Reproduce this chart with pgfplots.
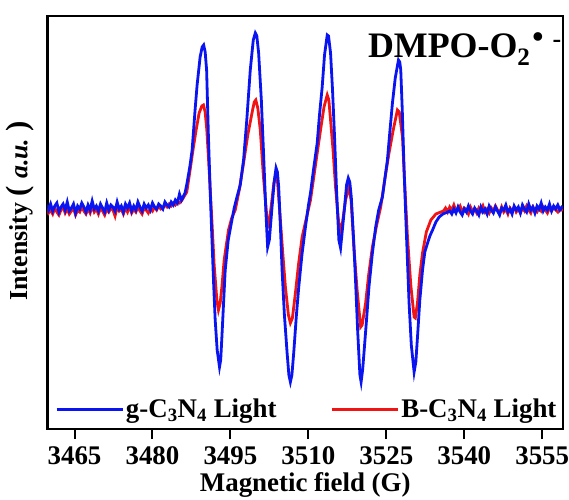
\documentclass[border=0pt]{standalone}
\usepackage{pgfplots}
\pgfplotsset{compat=1.18}
\usepackage{fontspec}
\setmainfont{Liberation Serif}
\definecolor{gblue}{RGB}{10,20,240}
\definecolor{bred}{RGB}{240,20,20}

% EPR spectra, DMPO spin trap (field in G, intensity in arbitrary units)
\pgfplotstableread{
x y
3459.6 3
3460.0 -2
3460.4 4
3460.8 -3
3461.2 2
3461.6 5
3462.0 -4
3462.4 1
3462.8 4
3463.2 -2
3463.6 6
3464.0 -3
3464.4 0
3464.8 4
3465.2 -5
3465.6 2
3466.0 -1
3466.4 5
3466.8 1
3467.2 -4
3467.6 3
3468.0 -2
3468.4 7
3468.8 -1
3469.2 2
3469.6 -3
3470.0 4
3470.4 0
3470.8 -4
3471.2 5
3471.6 -2
3472.0 3
3472.4 1
3472.8 -3
3473.2 6
3473.6 -1
3474.0 2
3474.4 -4
3474.8 4
3475.2 0
3475.6 5
3476.0 -3
3476.4 2
3476.8 -2
3477.2 6
3477.6 1
3478.0 -3
3478.4 4
3478.8 0
3479.2 3
3479.6 -2
3480.0 5
3480.4 1
3480.8 -1
3481.2 4
3481.6 2
3482.0 -1
3482.4 6
3482.8 3
3483.2 1
3483.6 6
3484.0 3
3484.4 8
3484.8 5
3485.2 14
3485.6 8
3486.27 15
3486.66 25
3487.24 43
3487.63 58
3488.20 98
3488.59 123
3489.17 151
3489.56 161
3489.85 163
3490.14 156
3490.42 138
3490.77 71
3491.10 18
3491.43 -29
3491.78 -77
3492.07 -112
3492.45 -142
3492.90 -159
3493.13 -152
3493.36 -129
3493.71 -92
3494.00 -62
3494.58 -32
3495.29 -12
3495.73 0
3496.26 11
3496.89 23
3497.53 48
3498.15 88
3498.82 138
3499.40 168
3499.79 175
3500.08 172
3500.43 155
3500.95 108
3501.39 53
3501.81 -2
3502.16 -39
3502.49 -32
3503.01 1
3503.46 28
3503.78 40
3504.04 36
3504.29 21
3504.61 -17
3504.94 -62
3505.39 -107
3505.91 -145
3506.25 -167
3506.54 -174
3506.83 -167
3507.18 -145
3507.70 -107
3508.15 -79
3508.76 -47
3509.44 -19
3510.02 3
3510.41 15
3510.98 38
3511.70 65
3512.14 93
3512.66 121
3513.11 153
3513.63 173
3513.88 172
3514.27 155
3514.65 118
3515.04 71
3515.42 18
3515.87 -32
3516.20 -40
3516.58 -20
3516.97 1
3517.35 23
3517.68 30
3517.97 26
3518.26 11
3518.71 -32
3519.09 -74
3519.48 -122
3519.92 -167
3520.15 -174
3520.44 -162
3520.70 -145
3521.22 -110
3521.66 -79
3522.28 -47
3522.95 -19
3523.53 -2
3524.25 11
3524.69 28
3525.21 48
3525.66 75
3526.18 105
3526.72 130
3527.34 148
3527.59 146
3527.78 138
3528.07 98
3528.42 38
3528.84 -22
3529.38 -95
3529.81 -137
3530.35 -164
3530.68 -154
3531.00 -129
3531.45 -92
3531.97 -62
3532.41 -44
3532.94 -35
3533.38 -28
3533.90 -22
3534.54 -14
3535.17 -9
3535.89 -6
3536.80 -4
3537.2 -3
3537.6 -6
3538.0 -1
3538.4 -5
3538.8 1
3539.2 -4
3539.6 -7
3540.0 -1
3540.4 -4
3540.8 2
3541.2 -3
3541.6 -6
3542.0 0
3542.4 -3
3542.8 -7
3543.2 1
3543.6 -4
3544.0 -1
3544.4 -6
3544.8 2
3545.2 -2
3545.6 -5
3546.0 1
3546.4 -3
3546.8 -7
3547.2 0
3547.6 -2
3548.0 3
3548.4 -4
3548.8 -1
3549.2 -6
3549.6 2
3550.0 -2
3550.4 1
3550.8 -5
3551.2 3
3551.6 -1
3552.0 -4
3552.4 4
3552.8 -2
3553.2 1
3553.6 -5
3554.0 2
3554.4 -1
3554.8 5
3555.2 -3
3555.6 1
3556.0 -2
3556.4 4
3556.8 -3
3557.2 2
3557.6 -1
3558.0 3
3558.4 -2
3558.8 1
3559.2 0
}\gcnlight

\pgfplotstableread{
x y
3459.6 -1
3460.0 -5
3460.4 -2
3460.8 -6
3461.2 0
3461.6 -4
3462.0 -7
3462.4 -2
3462.8 1
3463.2 -5
3463.6 -1
3464.0 -6
3464.4 -3
3464.8 0
3465.2 -7
3465.6 -2
3466.0 -4
3466.4 1
3466.8 -3
3467.2 -6
3467.6 -1
3468.0 -5
3468.4 2
3468.8 -4
3469.2 -1
3469.6 -6
3470.0 0
3470.4 -3
3470.8 -7
3471.2 -1
3471.6 -4
3472.0 0
3472.4 -2
3472.8 -8
3473.2 1
3473.6 -3
3474.0 -1
3474.4 -6
3474.8 0
3475.2 -4
3475.6 2
3476.0 -5
3476.4 -1
3476.8 -4
3477.2 1
3477.6 -3
3478.0 -6
3478.4 0
3478.8 -2
3479.2 -5
3479.6 0
3480.0 -3
3480.4 1
3480.8 -2
3481.2 2
3481.6 -1
3482.0 0
3482.4 3
3482.8 1
3483.2 4
3483.6 2
3484.0 5
3484.4 3
3484.8 6
3485.2 5
3485.69 8
3486.60 16
3487.24 38
3487.88 61
3488.40 78
3488.98 95
3489.50 102
3489.81 103
3490.14 96
3490.46 78
3490.91 38
3491.43 -12
3491.87 -57
3492.39 -92
3492.70 -102
3493.03 -95
3493.36 -79
3493.80 -52
3494.63 -22
3495.25 -10
3495.93 -2
3496.70 18
3497.53 45
3498.34 73
3499.15 95
3499.59 106
3499.88 108
3500.27 100
3500.75 78
3501.33 33
3502.05 -12
3502.39 -17
3502.88 3
3503.36 25
3503.75 32
3504.04 28
3504.61 -12
3505.10 -47
3505.58 -79
3506.16 -107
3506.54 -115
3506.93 -110
3507.51 -85
3508.09 -57
3508.80 -29
3509.54 -12
3510.41 8
3511.37 43
3512.34 78
3513.01 101
3513.63 113
3513.94 108
3514.27 88
3514.75 58
3515.23 21
3515.81 -14
3516.20 -22
3516.58 -14
3517.16 8
3517.80 21
3518.22 8
3518.76 -39
3519.38 -82
3520.06 -119
3520.35 -117
3521.02 -95
3521.60 -67
3522.32 -39
3523.15 -17
3523.92 1
3524.69 28
3525.52 55
3526.33 78
3527.14 98
3527.49 96
3528.11 71
3528.55 23
3529.07 -29
3529.71 -77
3530.35 -109
3530.58 -110
3531.00 -95
3531.45 -67
3531.97 -45
3532.70 -24
3533.57 -12
3534.54 -6
3535.50 -4
3536.0 -3
3536.4 0
3536.8 -4
3537.2 1
3537.6 -2
3538.0 3
3538.4 -3
3538.8 -1
3539.2 2
3539.6 -4
3540.0 0
3540.4 -2
3540.8 -6
3541.2 1
3541.6 -3
3542.0 -1
3542.4 -5
3542.8 0
3543.2 -3
3543.6 2
3544.0 -4
3544.4 -1
3544.8 -5
3545.2 0
3545.6 -3
3546.0 2
3546.4 -2
3546.8 -5
3547.2 1
3547.6 -4
3548.0 -1
3548.4 -6
3548.8 0
3549.2 -3
3549.6 1
3550.0 -4
3550.4 -1
3550.8 -5
3551.2 0
3551.6 -3
3552.0 2
3552.4 -2
3552.8 -5
3553.2 1
3553.6 -2
3554.0 -4
3554.4 0
3554.8 -3
3555.2 1
3555.6 -2
3556.0 -5
3556.4 0
3556.8 -3
3557.2 1
3557.6 -2
3558.0 -4
3558.4 0
3558.8 -2
3559.2 -1
}\bcnlight

\begin{document}
\begin{tikzpicture}
\useasboundingbox (-47.5bp,-71bp) rectangle (521.5bp,429bp);
\begin{axis}[
  scale only axis,
  width=515.5bp, height=413bp,
  xmin=3459.8, xmax=3559,
  ymin=-221, ymax=192,
  axis line style={line width=2.2bp},
  xtick={3465,3480,3495,3510,3525,3540,3555},
  xtick pos=bottom,
  tick align=outside,
  major tick length=10bp,
  every tick/.style={black, line width=2bp},
  ytick=\empty,
  /pgf/number format/assume math mode=true,
  /pgf/number format/1000 sep={},
  xticklabel style={font=\fontsize{27}{30}\selectfont\bfseries, yshift=-4bp},
  xlabel={Magnetic field (G)},
  xlabel style={font=\fontsize{27}{30}\selectfont\bfseries, yshift=-1bp},
  ylabel={Intensity {\fontsize{31}{31}\selectfont(}\hspace{7bp}\textit{a.u.}\hspace{7bp}{\fontsize{31}{31}\selectfont)}},
  ylabel style={font=\fontsize{26}{28}\selectfont\bfseries, at={(ticklabel cs:0.528)}},
  legend style={at={(0.503,0.018)}, anchor=south, draw=none, fill=none,
    font=\fontsize{27}{29}\selectfont\bfseries, inner sep=0pt,
    /tikz/every even column/.append style={column sep=52bp}},
  legend columns=2,
  legend image code/.code={\draw[#1] (0bp,0bp) -- (66bp,0bp);},
]
\addlegendimage{gblue, line width=2.8bp}
\addlegendentry{g-C\textsubscript{3}N\textsubscript{4} Light}
\addlegendimage{bred, line width=2.8bp}
\addlegendentry{B-C\textsubscript{3}N\textsubscript{4} Light}

\addplot[bred, line width=2.8bp, forget plot] table {\bcnlight};
\addplot[gblue, line width=2.8bp, forget plot] table {\gcnlight};

\node[anchor=base east, inner sep=0pt, font=\fontsize{36}{38}\selectfont\bfseries]
  at (rel axis cs:0.997,0.9) {DMPO-O\textsubscript{2}\hspace{2bp}\raisebox{10bp}{\fontsize{32}{32}\selectfont •}\hspace{9bp}\raisebox{10bp}{\fontsize{26}{26}\selectfont -}};
\end{axis}
\end{tikzpicture}
\end{document}
